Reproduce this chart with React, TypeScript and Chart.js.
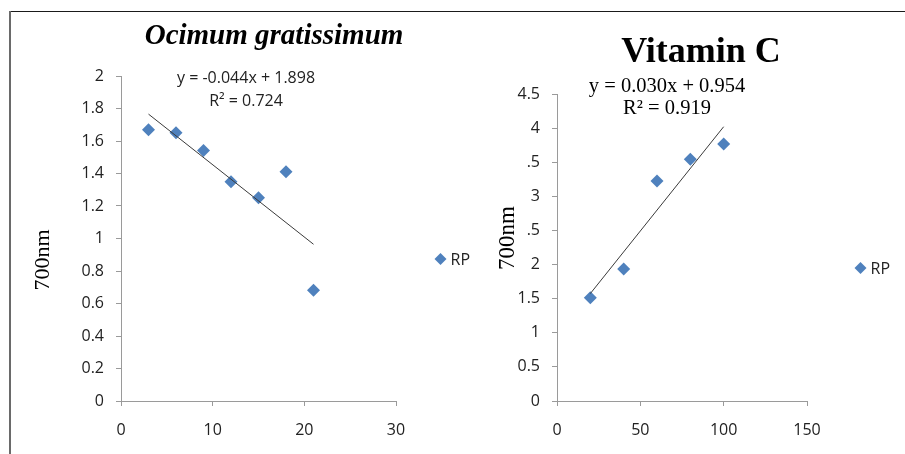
import React, { useEffect, useRef } from "react";
import { Chart, registerables } from "chart.js";

Chart.register(...registerables);

// ---- Data ----
const leftTitle = "Ocimum gratissimum";
const leftX = [3, 6, 9, 12, 15, 18, 21];
const leftY = [1.67, 1.651, 1.541, 1.35, 1.251, 1.411, 0.681];
const leftXTicks = [0, 10, 20, 30];
const leftYTickLabels = ["0", "0.2", "0.4", "0.6", "0.8", "1", "1.2", "1.4", "1.6", "1.8", "2"];
const leftEquation = ["y = -0.044x + 1.898", "R² = 0.724"];

const rightTitle = "Vitamin C";
const rightX = [20, 40, 60, 80, 100];
const rightY = [1.515, 1.935, 3.226, 3.544, 3.768];
const rightXTicks = [0, 50, 100, 150];
const rightYTickLabels = ["0", "0.5", "1", "1.5", "2", ".5", "3", ".5", "4", "4.5"];
const rightEquation = ["y = 0.030x + 0.954", "R² = 0.919"];

const seriesName = "RP";
const yAxisLabel = "700nm";

const BLUE = "#4F81BD";
const TICK_FONT = "'Open Sans', sans-serif";

function regression(xs: number[], ys: number[]) {
  const n = xs.length;
  const mx = xs.reduce((a, b) => a + b, 0) / n;
  const my = ys.reduce((a, b) => a + b, 0) / n;
  let sxy = 0, sxx = 0;
  for (let i = 0; i < n; i++) {
    sxy += (xs[i] - mx) * (ys[i] - my);
    sxx += (xs[i] - mx) * (xs[i] - mx);
  }
  const m = sxy / sxx;
  const b = my - m * mx;
  const x0 = Math.min(...xs), x1 = Math.max(...xs);
  return [{ x: x0, y: m * x0 + b }, { x: x1, y: m * x1 + b }];
}

type TextItem = { text: string; x: number; y: number; font: string; color?: string; align?: CanvasTextAlign; rotate?: boolean };

const textPlugin = {
  id: "texts",
  afterDraw(chart: any, _args: any, opts: any) {
    const ctx = chart.ctx as CanvasRenderingContext2D;
    const items: TextItem[] = opts.items || [];
    ctx.save();
    for (const it of items) {
      ctx.save();
      ctx.font = it.font;
      ctx.fillStyle = it.color || "#000";
      ctx.textAlign = it.align || "center";
      ctx.textBaseline = "alphabetic";
      if (it.rotate) {
        ctx.translate(it.x, it.y);
        ctx.rotate(-Math.PI / 2);
        ctx.textBaseline = "middle";
        ctx.fillText(it.text, 0, 0);
      } else {
        ctx.fillText(it.text, it.x, it.y);
      }
      ctx.restore();
    }
    const lg = opts.legend;
    if (lg) {
      const r = lg.size;
      ctx.fillStyle = BLUE;
      ctx.beginPath();
      ctx.moveTo(lg.x - r, lg.y);
      ctx.lineTo(lg.x, lg.y - r);
      ctx.lineTo(lg.x + r, lg.y);
      ctx.lineTo(lg.x, lg.y + r);
      ctx.closePath();
      ctx.fill();
      ctx.font = "16px " + TICK_FONT;
      ctx.fillStyle = "#222";
      ctx.textAlign = "left";
      ctx.textBaseline = "middle";
      ctx.fillText(lg.text, lg.x + r + 4, lg.y + 1);
    }
    ctx.restore();
  },
};

function makeConfig(p: {
  xs: number[]; ys: number[]; xTicks: number[]; yLabels: string[]; yStep: number;
  yWidth: number; padTop: number; padRight: number; items: TextItem[]; legend: any;
}) {
  const trend = regression(p.xs, p.ys);
  const yMax = p.yStep * (p.yLabels.length - 1);
  return {
    type: "scatter" as const,
    data: {
      datasets: [
        {
          label: seriesName,
          data: p.xs.map((x, i) => ({ x, y: p.ys[i] })),
          pointStyle: "rectRot",
          pointRadius: 6.5,
          pointBackgroundColor: BLUE,
          pointBorderColor: BLUE,
          pointBorderWidth: 0,
          showLine: false,
          order: 1,
        },
        {
          label: "trend",
          data: trend,
          showLine: true,
          borderColor: "#3a3a3a",
          borderWidth: 1,
          pointRadius: 0,
          order: 0,
        },
      ],
    },
    options: {
      animation: false,
      responsive: false,
      maintainAspectRatio: false,
      layout: { padding: { left: 0, top: p.padTop, right: p.padRight, bottom: 19 } },
      plugins: {
        legend: { display: false },
        tooltip: { enabled: false },
        title: { display: false },
        texts: { items: p.items, legend: p.legend },
      },
      scales: {
        x: {
          type: "linear",
          min: p.xTicks[0],
          max: p.xTicks[p.xTicks.length - 1],
          afterBuildTicks: (scale: any) => {
            scale.ticks = p.xTicks.map((v) => ({ value: v }));
          },
          afterFit: (scale: any) => { scale.height = 34; },
          ticks: {
            font: { family: TICK_FONT, size: 16 },
            color: "#222",
            padding: 15,
            maxRotation: 0,
            callback: (v: any) => String(v),
          },
          grid: { drawOnChartArea: false, drawTicks: true, tickLength: 5, tickColor: "#9a9a9a" },
          border: { display: true, color: "#9a9a9a", width: 1 },
        },
        y: {
          type: "linear",
          min: 0,
          max: yMax,
          afterBuildTicks: (scale: any) => {
            scale.ticks = p.yLabels.map((_l, i) => ({ value: i * p.yStep }));
          },
          afterFit: (scale: any) => { scale.width = p.yWidth; },
          ticks: {
            font: { family: TICK_FONT, size: 16 },
            color: "#222",
            padding: 12,
            callback: (_v: any, i: number) => p.yLabels[i],
          },
          grid: { drawOnChartArea: false, drawTicks: true, tickLength: 5, tickColor: "#9a9a9a" },
          border: { display: true, color: "#9a9a9a", width: 1 },
        },
      },
    },
    plugins: [textPlugin],
  };
}

export default function App() {
  const leftRef = useRef<HTMLCanvasElement>(null);
  const rightRef = useRef<HTMLCanvasElement>(null);

  useEffect(() => {
    document.body.style.margin = "0";
    const left = new Chart(
      leftRef.current!,
      makeConfig({
        xs: leftX, ys: leftY, xTicks: leftXTicks, yLabels: leftYTickLabels, yStep: 0.2,
        yWidth: 121, padTop: 76, padRight: 84,
        items: [
          { text: leftTitle, x: 274, y: 44, font: "italic bold 29px 'Liberation Serif', serif" },
          { text: leftEquation[0], x: 246, y: 83, font: "16px " + TICK_FONT, color: "#222" },
          { text: leftEquation[1], x: 246, y: 106, font: "16px " + TICK_FONT, color: "#222" },
          { text: yAxisLabel, x: 43, y: 260, font: "22px 'Liberation Serif', serif", rotate: true },
        ],
        legend: { x: 440.5, y: 259, size: 6, text: seriesName },
      }) as any
    );
    const right = new Chart(
      rightRef.current!,
      makeConfig({
        xs: rightX, ys: rightY, xTicks: rightXTicks, yLabels: rightYTickLabels, yStep: 0.5,
        yWidth: 77, padTop: 94, padRight: 98,
        items: [
          { text: rightTitle, x: 221, y: 62, font: "bold 36px 'Liberation Serif', serif" },
          { text: rightEquation[0], x: 187, y: 92, font: "20.5px 'Liberation Serif', serif" },
          { text: rightEquation[1], x: 187, y: 114, font: "20.5px 'Liberation Serif', serif" },
          { text: yAxisLabel, x: 28, y: 238, font: "23px 'Liberation Serif', serif", rotate: true },
        ],
        legend: { x: 380.5, y: 268, size: 6, text: seriesName },
      }) as any
    );
    return () => {
      left.destroy();
      right.destroy();
    };
  }, []);

  return (
    <div style={{ position: "fixed", left: 0, top: 0, width: 905, height: 454, background: "#fff", overflow: "hidden" }}>
      <canvas ref={leftRef} width={480} height={454} style={{ position: "absolute", left: 0, top: 0, width: 480, height: 454 }} />
      <canvas ref={rightRef} width={425} height={454} style={{ position: "absolute", left: 480, top: 0, width: 425, height: 454 }} />
      <div style={{ position: "absolute", left: 10, top: 11, width: 895, height: 0, borderTop: "1.5px solid #1a1a1a" }} />
      <div style={{ position: "absolute", left: 9, top: 11, width: 0, height: 443, borderLeft: "2px solid #6a6a6a" }} />
    </div>
  );
}
